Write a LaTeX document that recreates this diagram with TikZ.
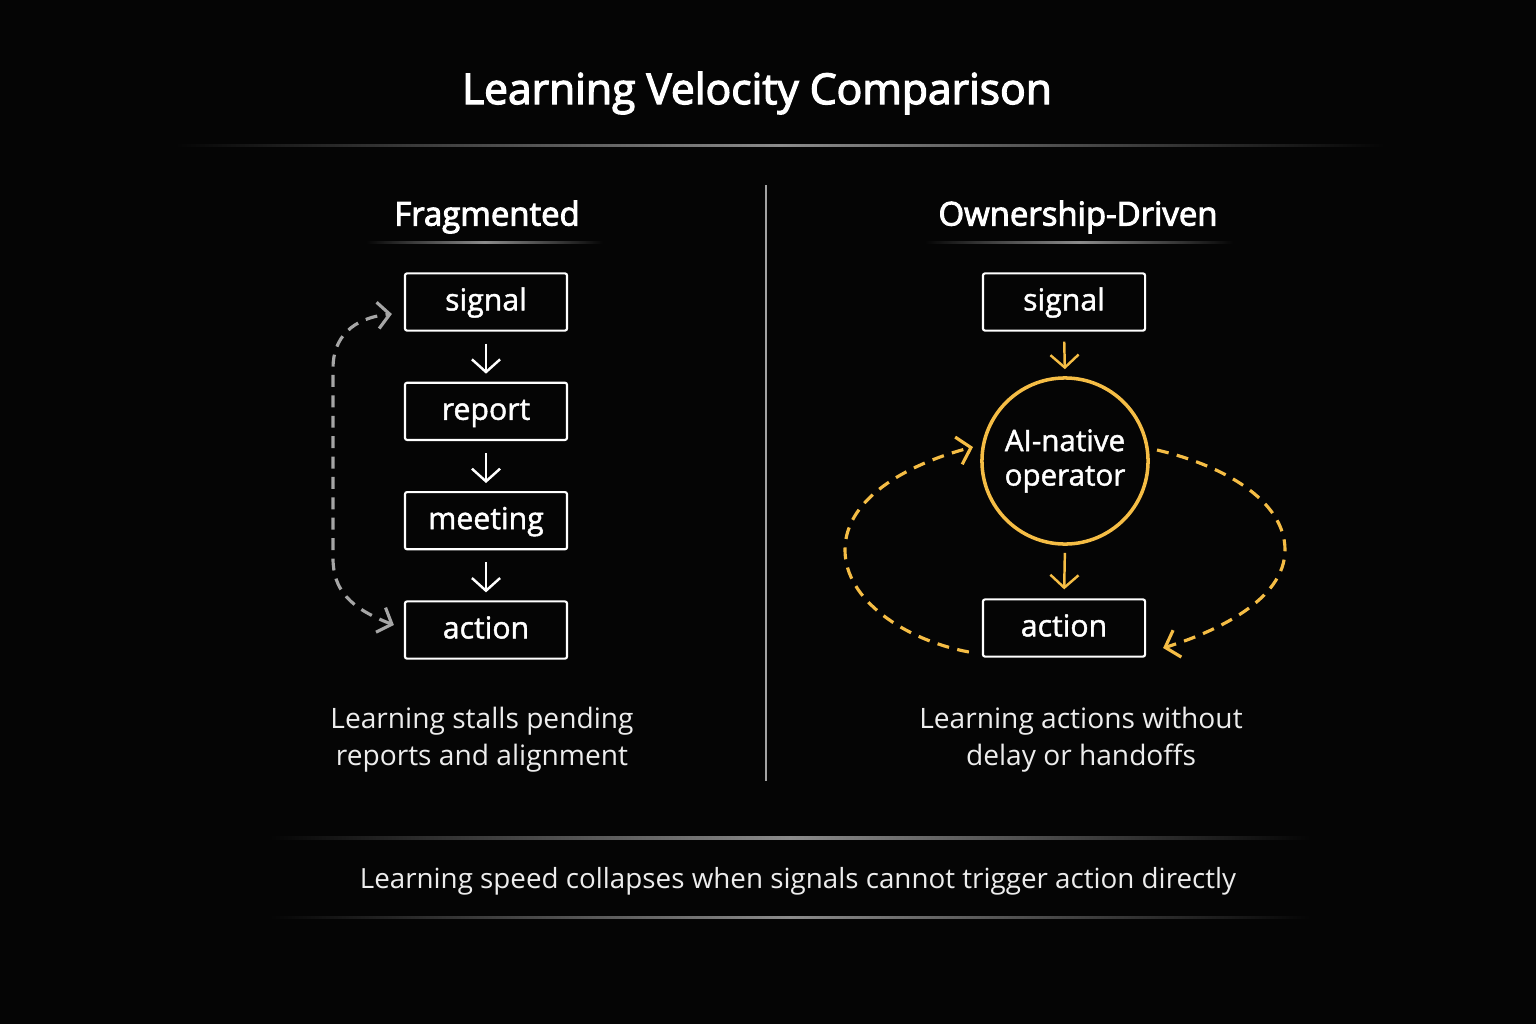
\documentclass[tikz,border=0pt]{standalone}
\usepackage{fontspec}
\setmainfont{Open Sans}
\newfontfamily\semifont[FakeBold=3]{Open Sans}
\newfontfamily\medfont[FakeBold=1.5]{Open Sans}
\usetikzlibrary{positioning,arrows.meta,calc}

\definecolor{bgdark}{HTML}{050505}
\definecolor{gold}{HTML}{F5BD45}
\definecolor{loopgray}{HTML}{A6A6A6}
\definecolor{rulegray}{HTML}{8C8C8C}
\definecolor{softwhite}{HTML}{EDEDED}

\tikzset{
  stepbox/.style={rectangle,
                  draw = white,
                  line width = 0.6pt,
                  fill = bgdark,
                  text = white,
                  rounded corners = 0.6pt,
                  minimum width = 1.62cm,
                  minimum height = 0.54cm,
                  text height = 0.72em,
                  text depth = 0.24em,
                  font = \fontsize{8.6}{10}\medfont},
  heading/.style={text = white,
                  font = \fontsize{9.35}{11}\semifont},
  caption/.style={text = softwhite,
                  align = center,
                  font = \fontsize{8}{10.5}\selectfont},
  flow/.style={-{Straight Barb[length=3.6pt,width=8pt]},
               line width = 0.7pt},
  loop/.style={dashed,
               dash pattern = on 3.4pt off 2.4pt,
               line width = 0.9pt},
}

\begin{document}
\begin{tikzpicture}[x=0.01cm, y=-0.01cm]

  \fill[bgdark] (0,0) rectangle (1536,1024);
  \useasboundingbox (0,0) rectangle (1536,1024);

  % title and rules
  \node[text = white,
        font = \fontsize{12.1}{14}\semifont] (title) at (757,93) {Learning Velocity Comparison};
  \shade[left color=bgdark, right color=bgdark, middle color=rulegray] (175,144) rectangle (1385,146.5);
  \fill[rulegray!80] (765,185) rectangle (767,781);

  % fragmented side
  \node[heading] (fhead) at (487,217) {Fragmented};
  \shade[left color=bgdark, right color=bgdark, middle color=rulegray] (366,241) rectangle (603,243.5);

  \node[stepbox] (fsignal) at (486,302) {signal};
  \node[stepbox, below = 0.5cm of fsignal] (freport) {report};
  \node[stepbox, below = 0.5cm of freport] (fmeeting) {meeting};
  \node[stepbox, below = 0.5cm of fmeeting] (faction) {action};

  \foreach \a/\b in {fsignal/freport, freport/fmeeting, fmeeting/faction}
    \draw[flow, white, shorten <=0.12cm, shorten >=0.08cm] (\a.south) -- (\b.north);

  \coordinate (floopA) at ($(faction.west)+(-10,-5)$);
  \coordinate (floopB) at ($(fsignal.west)+(-12,12)$);
  \draw[loop, loopgray, {Straight Barb[length=3.4pt,width=7.5pt]}-{Straight Barb[length=3.4pt,width=7.5pt]}]
    (floopA) .. controls (350,608) and (333,590) .. (333,558)
    -- (333,368) .. controls (333,338) and (352,318) .. (floopB);

  \node[caption] (fcap) at (482,740) {Learning stalls pending\\reports and alignment};

  % ownership side
  \node[heading] (ohead) at (1078,217) {Ownership-Driven};
  \shade[left color=bgdark, right color=bgdark, middle color=rulegray] (925,241) rectangle (1233,243.5);

  \node[stepbox] (osignal) at (1064,302) {signal};
  \node[circle,
        draw = gold,
        line width = 1pt,
        fill = bgdark,
        text = white,
        align = center,
        minimum size = 1.66cm,
        inner sep = 0pt,
        font = \fontsize{8.4}{9.8}\medfont] (aiop) at (1065,461) {AI-native\\operator};
  \node[stepbox] (oaction) at (1064,628) {action};

  \draw[flow, gold, shorten <=0.1cm, shorten >=0.07cm] (osignal.south) -- (aiop.north);
  \draw[flow, gold, shorten <=0.07cm, shorten >=0.09cm] (aiop.south) -- (oaction.north);

  \coordinate (oleftA) at ($(oaction.west)+(-13,24)$);
  \coordinate (oleftB) at ($(aiop.center)+(-92,-14)$);
  \coordinate (orightA) at ($(aiop.center)+(92,-11)$);
  \coordinate (orightB) at ($(oaction.east)+(17,20)$);
  \draw[loop, gold, -{Straight Barb[length=3.6pt,width=8pt]}]
    (oleftA) .. controls (905,640) and (845,600) .. (845,550)
    .. controls (845,495) and (915,462) .. (oleftB);
  \draw[loop, gold, -{Straight Barb[length=3.6pt,width=8pt]}]
    (orightA) .. controls (1222,465) and (1285,500) .. (1285,550)
    .. controls (1285,600) and (1215,632) .. (orightB);

  \node[caption] (ocap) at (1081,740) {Learning actions without\\delay or handoffs};

  % footer
  \shade[left color=bgdark, right color=bgdark, middle color=rulegray] (270,836.5) rectangle (1310,839);
  \node[caption, font = \fontsize{7.9}{10}\selectfont] (footer) at (798,881) {Learning speed collapses when signals cannot trigger action directly};
  \shade[left color=bgdark, right color=bgdark, middle color=rulegray] (270,916) rectangle (1310,918.5);

\end{tikzpicture}
\end{document}
